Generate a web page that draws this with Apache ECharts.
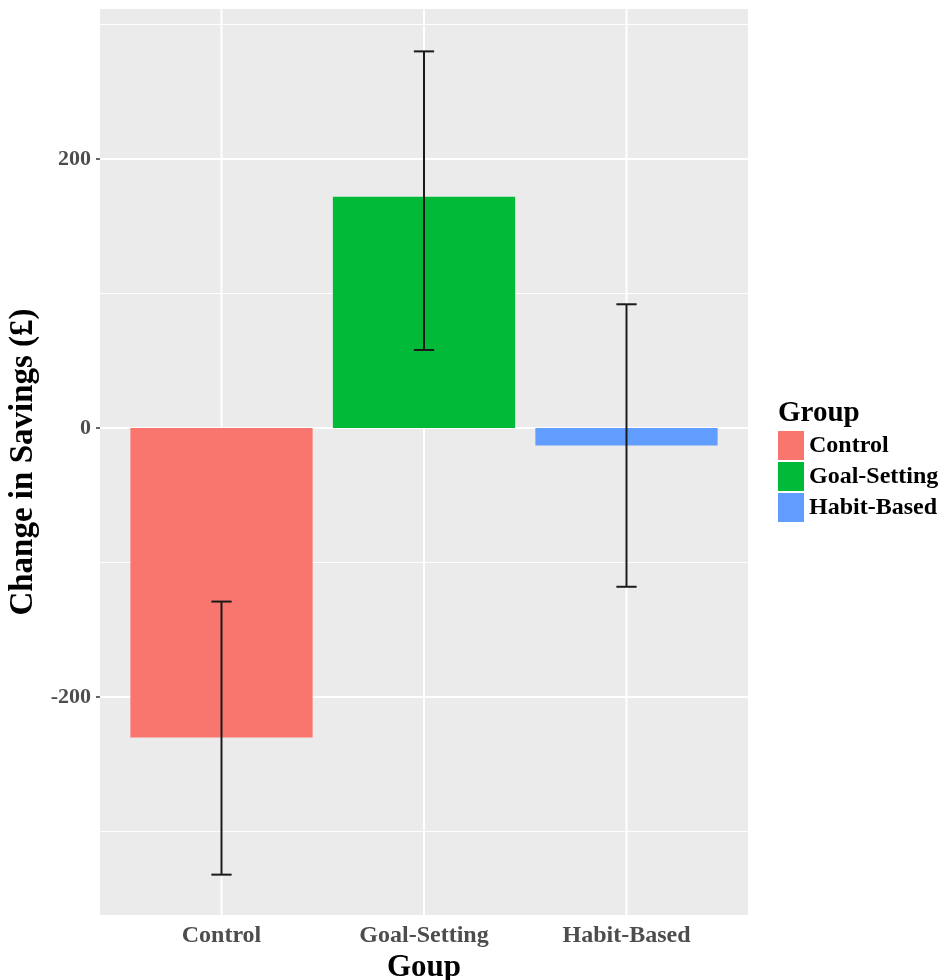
<!DOCTYPE html>
<html>
<head>
<meta charset="utf-8">
<script src="https://cdn.jsdelivr.net/npm/echarts@6/dist/echarts.min.js"></script>
<style>html,body{margin:0;padding:0;background:#fff;overflow:hidden;}#c{width:943px;height:980px;}</style>
</head>
<body>
<div id="c"></div>
<script>
const categories = ['Control', 'Goal-Setting', 'Habit-Based'];
const meanChange = [-230, 172, -13];
const errLow = [-332, 58, -118];
const errHigh = [-129, 280, 92];
const barColors = ['#F8766D', '#00BA38', '#619CFF'];
const yMajorTicks = [-200, 0, 200];
const yMinorTicks = [-300, -100, 100, 300];
const xPositions = [1, 2, 3];

const X_MIN = 0.4, X_MAX = 3.6, Y_MIN = -362, Y_MAX = 311.5;
const SERIF = '"Liberation Serif", "Times New Roman", serif';

const chart = echarts.init(document.getElementById('c'), null, {renderer: 'canvas'});

function hLineSeries(vals, width) {
  return {
    type: 'custom', silent: true, z: 1,
    data: vals.map(v => [X_MIN, v]),
    encode: {x: 0, y: 1},
    renderItem: function (params, api) {
      const v = api.value(1);
      const p1 = api.coord([X_MIN, v]);
      const p2 = api.coord([X_MAX, v]);
      return {type: 'line', shape: {x1: p1[0], y1: p1[1], x2: p2[0], y2: p2[1]},
        style: {stroke: '#ffffff', lineWidth: width}};
    }
  };
}
function vLineSeries(vals, width) {
  return {
    type: 'custom', silent: true, z: 1,
    data: vals.map(v => [v, 0]),
    encode: {x: 0, y: 1},
    renderItem: function (params, api) {
      const v = api.value(0);
      const p1 = api.coord([v, Y_MIN]);
      const p2 = api.coord([v, Y_MAX]);
      return {type: 'line', shape: {x1: p1[0], y1: p1[1], x2: p2[0], y2: p2[1]},
        style: {stroke: '#ffffff', lineWidth: width}};
    }
  };
}

const series = [
  hLineSeries(yMinorTicks, 1),
  hLineSeries(yMajorTicks, 2),
  vLineSeries(xPositions, 2)
];

categories.forEach(function (name, i) {
  series.push({
    name: name,
    type: 'custom', z: 2,
    itemStyle: {color: barColors[i]},
    data: [[xPositions[i], meanChange[i]]],
    encode: {x: 0, y: 1},
    renderItem: function (params, api) {
      const x = api.value(0), v = api.value(1);
      const a = api.coord([x - 0.45, v]);
      const b = api.coord([x + 0.45, 0]);
      return {type: 'rect',
        shape: {x: a[0], y: Math.min(a[1], b[1]), width: b[0] - a[0], height: Math.abs(b[1] - a[1])},
        style: {fill: barColors[i]}};
    }
  });
});

series.push({
  type: 'custom', z: 3, silent: true,
  data: xPositions.map((x, i) => [x, errLow[i], errHigh[i]]),
  encode: {x: 0, y: [1, 2]},
  renderItem: function (params, api) {
    const x = api.value(0), lo = api.value(1), hi = api.value(2);
    const pl = api.coord([x, lo]), ph = api.coord([x, hi]);
    const cl = api.coord([x - 0.05, lo]), cr = api.coord([x + 0.05, lo]);
    const tl = api.coord([x - 0.05, hi]), tr = api.coord([x + 0.05, hi]);
    const st = {stroke: '#1a1a1a', lineWidth: 2};
    return {type: 'group', children: [
      {type: 'line', shape: {x1: pl[0], y1: pl[1], x2: ph[0], y2: ph[1]}, style: st},
      {type: 'line', shape: {x1: cl[0], y1: cl[1], x2: cr[0], y2: cr[1]}, style: st},
      {type: 'line', shape: {x1: tl[0], y1: tl[1], x2: tr[0], y2: tr[1]}, style: st}
    ]};
  }
});

chart.setOption({
  animation: false,
  backgroundColor: '#ffffff',
  title: {
    text: 'Group', left: 778, top: 399, padding: 0,
    textStyle: {fontFamily: SERIF, fontWeight: 'bold', fontSize: 29, color: '#000'}
  },
  legend: {
    data: categories, orient: 'vertical', left: 778, top: 431, padding: 0,
    itemWidth: 26, itemHeight: 29, itemGap: 2, icon: 'rect', selectedMode: false,
    textStyle: {fontFamily: SERIF, fontWeight: 'bold', fontSize: 24, color: '#000'}
  },
  grid: {left: 100, right: 195, top: 9, bottom: 65, containLabel: false,
    outerBoundsMode: 'none',
    show: true, backgroundColor: '#EBEBEB', borderWidth: 0},
  xAxis: {
    type: 'value', min: X_MIN, max: X_MAX,
    name: 'Goup', nameLocation: 'middle', nameGap: 30,
    nameTextStyle: {fontFamily: SERIF, fontWeight: 'bold', fontSize: 31, color: '#000'},
    axisLine: {show: false},
    splitLine: {show: false},
    axisTick: {show: true, customValues: xPositions, length: 4, lineStyle: {color: '#333', width: 1.5}},
    axisLabel: {customValues: xPositions, margin: 9,
      formatter: function (v) { return categories[Math.round(v) - 1] || ''; },
      fontFamily: SERIF, fontWeight: 'bold', fontSize: 24, color: '#4d4d4d'}
  },
  yAxis: {
    type: 'value', min: Y_MIN, max: Y_MAX,
    name: 'Change in Savings (£)', nameLocation: 'middle', nameGap: 54, nameRotate: 90,
    nameTextStyle: {fontFamily: SERIF, fontWeight: 'bold', fontSize: 33, color: '#000'},
    axisLine: {show: false},
    splitLine: {show: false},
    axisTick: {show: true, customValues: yMajorTicks, length: 4, lineStyle: {color: '#333', width: 1.5}},
    axisLabel: {customValues: yMajorTicks, margin: 9,
      fontFamily: SERIF, fontWeight: 'bold', fontSize: 22, color: '#4d4d4d'}
  },
  series: series
});
</script>
</body>
</html>
